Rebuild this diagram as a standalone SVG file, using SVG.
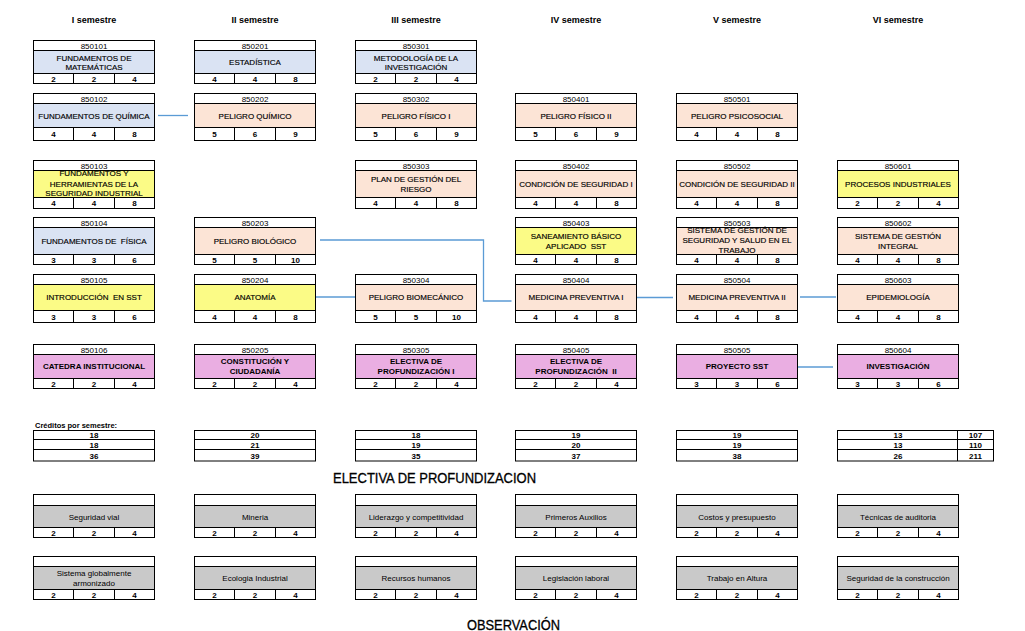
<svg xmlns="http://www.w3.org/2000/svg" width="1025" height="631" viewBox="0 0 1025 631">
<style>
.box{fill:none;stroke:#000;stroke-width:1}
.ln{stroke:#000;stroke-width:1;fill:none}
.bl{fill:#dae3f3}.or{fill:#fce4d6}.ye{fill:#fbfb86}.pk{fill:#eaaee2}.gr{fill:#c9c9c9}
text{font-family:"Liberation Sans",Arial,sans-serif;fill:#000;text-anchor:middle}
.cd{font-size:8px}
.nm{font-size:8px;stroke:#000;stroke-width:0.15px}
.nb{font-size:8px;font-weight:bold}
.nu{font-size:8px;font-weight:bold}
.el{font-size:8px}
.sem{font-size:9px;font-weight:bold}
.big{font-size:14px;text-anchor:start;stroke:#000;stroke-width:0.3px}
.conn{stroke:#5b9bd5;stroke-width:1.3;fill:none}
</style>
<rect width="1025" height="631" fill="#fff"/>
<g id="headers">
<text class="sem" x="94" y="23">I semestre</text>
<text class="sem" x="255" y="23">II semestre</text>
<text class="sem" x="416" y="23">III semestre</text>
<text class="sem" x="576" y="23">IV semestre</text>
<text class="sem" x="737" y="23">V semestre</text>
<text class="sem" x="898" y="23">VI semestre</text>
</g>
<g id="connectors">
<path class="conn" d="M158 115.5H188"/>
<path class="conn" d="M320 240H483.5V301H511.5"/>
<path class="conn" d="M316 297H355"/>
<path class="conn" d="M637 297.5H673"/>
<path class="conn" d="M800 297H836"/>
<path class="conn" d="M798 367H833"/>
</g>
<!-- Row 1 -->
<g id="n850101" transform="translate(33.5,40.5)"><rect class="bl" y="10" width="121" height="23"/><rect class="box" width="121" height="43"/><path class="ln" d="M0 10H121M0 33H121M40 33V43M81 33V43"/><text class="cd" x="60.5" y="8">850101</text><text class="nm" x="60.5" y="20">FUNDAMENTOS DE</text><text class="nm" x="60.5" y="29">MATEMÁTICAS</text><text class="nu" x="20" y="41">2</text><text class="nu" x="60.5" y="41">2</text><text class="nu" x="101" y="41">4</text></g>
<g id="n850201" transform="translate(194.5,40.5)"><rect class="bl" y="10" width="121" height="23"/><rect class="box" width="121" height="43"/><path class="ln" d="M0 10H121M0 33H121M40 33V43M81 33V43"/><text class="cd" x="60.5" y="8">850201</text><text class="nm" x="60.5" y="24.5">ESTADÍSTICA</text><text class="nu" x="20" y="41">4</text><text class="nu" x="60.5" y="41">4</text><text class="nu" x="101" y="41">8</text></g>
<g id="n850301" transform="translate(355.5,40.5)"><rect class="bl" y="10" width="121" height="23"/><rect class="box" width="121" height="43"/><path class="ln" d="M0 10H121M0 33H121M40 33V43M81 33V43"/><text class="cd" x="60.5" y="8">850301</text><text class="nm" x="60.5" y="20">METODOLOGÍA DE LA</text><text class="nm" x="60.5" y="29">INVESTIGACIÓN</text><text class="nu" x="20" y="41">2</text><text class="nu" x="60.5" y="41">2</text><text class="nu" x="101" y="41">4</text></g>
<!-- Row 2 -->
<g id="n850102" transform="translate(33.5,93.5)"><rect class="bl" y="10" width="121" height="24"/><rect class="box" width="121" height="47"/><path class="ln" d="M0 10H121M0 34H121M40 34V47M81 34V47"/><text class="cd" x="60.5" y="8">850102</text><text class="nm" x="60.5" y="25">FUNDAMENTOS DE QUÍMICA</text><text class="nu" x="20" y="43.5">4</text><text class="nu" x="60.5" y="43.5">4</text><text class="nu" x="101" y="43.5">8</text></g>
<g id="n850202" transform="translate(194.5,93.5)"><rect class="or" y="10" width="121" height="24"/><rect class="box" width="121" height="47"/><path class="ln" d="M0 10H121M0 34H121M40 34V47M81 34V47"/><text class="cd" x="60.5" y="8">850202</text><text class="nm" x="60.5" y="25">PELIGRO QUÍMICO</text><text class="nu" x="20" y="43.5">5</text><text class="nu" x="60.5" y="43.5">6</text><text class="nu" x="101" y="43.5">9</text></g>
<g id="n850302" transform="translate(355.5,93.5)"><rect class="or" y="10" width="121" height="24"/><rect class="box" width="121" height="47"/><path class="ln" d="M0 10H121M0 34H121M40 34V47M81 34V47"/><text class="cd" x="60.5" y="8">850302</text><text class="nm" x="60.5" y="25">PELIGRO FÍSICO I</text><text class="nu" x="20" y="43.5">5</text><text class="nu" x="60.5" y="43.5">6</text><text class="nu" x="101" y="43.5">9</text></g>
<g id="n850401" transform="translate(515.5,93.5)"><rect class="or" y="10" width="121" height="24"/><rect class="box" width="121" height="47"/><path class="ln" d="M0 10H121M0 34H121M40 34V47M81 34V47"/><text class="cd" x="60.5" y="8">850401</text><text class="nm" x="60.5" y="25">PELIGRO FÍSICO II</text><text class="nu" x="20" y="43.5">5</text><text class="nu" x="60.5" y="43.5">6</text><text class="nu" x="101" y="43.5">9</text></g>
<g id="n850501" transform="translate(676.5,93.5)"><rect class="or" y="10" width="121" height="24"/><rect class="box" width="121" height="47"/><path class="ln" d="M0 10H121M0 34H121M40 34V47M81 34V47"/><text class="cd" x="60.5" y="8">850501</text><text class="nm" x="60.5" y="25">PELIGRO PSICOSOCIAL</text><text class="nu" x="20" y="43.5">4</text><text class="nu" x="60.5" y="43.5">4</text><text class="nu" x="101" y="43.5">8</text></g>
<!-- Row 3 -->
<g id="n850103" transform="translate(33.5,160.5)"><rect class="ye" y="10" width="121" height="27"/><rect class="box" width="121" height="48"/><path class="ln" d="M0 10H121M0 37H121M40 37V48M81 37V48"/><text class="cd" x="60.5" y="8">850103</text><text class="nm" x="60.5" y="15.5">FUNDAMENTOS Y</text><text class="nm" x="60.5" y="26">HERRAMIENTAS DE LA</text><text class="nm" x="60.5" y="35.5">SEGURIDAD INDUSTRIAL</text><text class="nu" x="20" y="45.5">4</text><text class="nu" x="60.5" y="45.5">4</text><text class="nu" x="101" y="45.5">8</text></g>
<g id="n850303" transform="translate(355.5,160.5)"><rect class="or" y="10" width="121" height="27"/><rect class="box" width="121" height="48"/><path class="ln" d="M0 10H121M0 37H121M40 37V48M81 37V48"/><text class="cd" x="60.5" y="8">850303</text><text class="nm" x="60.5" y="21">PLAN DE GESTIÓN DEL</text><text class="nm" x="60.5" y="31">RIESGO</text><text class="nu" x="20" y="45.5">4</text><text class="nu" x="60.5" y="45.5">4</text><text class="nu" x="101" y="45.5">8</text></g>
<g id="n850402" transform="translate(515.5,160.5)"><rect class="or" y="10" width="121" height="27"/><rect class="box" width="121" height="48"/><path class="ln" d="M0 10H121M0 37H121M40 37V48M81 37V48"/><text class="cd" x="60.5" y="8">850402</text><text class="nm" x="60.5" y="26.5">CONDICIÓN DE SEGURIDAD I</text><text class="nu" x="20" y="45.5">4</text><text class="nu" x="60.5" y="45.5">4</text><text class="nu" x="101" y="45.5">8</text></g>
<g id="n850502" transform="translate(676.5,160.5)"><rect class="or" y="10" width="121" height="27"/><rect class="box" width="121" height="48"/><path class="ln" d="M0 10H121M0 37H121M40 37V48M81 37V48"/><text class="cd" x="60.5" y="8">850502</text><text class="nm" x="60.5" y="26.5">CONDICIÓN DE SEGURIDAD II</text><text class="nu" x="20" y="45.5">4</text><text class="nu" x="60.5" y="45.5">4</text><text class="nu" x="101" y="45.5">8</text></g>
<g id="n850601" transform="translate(837.5,160.5)"><rect class="ye" y="10" width="121" height="27"/><rect class="box" width="121" height="48"/><path class="ln" d="M0 10H121M0 37H121M40 37V48M81 37V48"/><text class="cd" x="60.5" y="8">850601</text><text class="nm" x="60.5" y="26.5">PROCESOS INDUSTRIALES</text><text class="nu" x="20" y="45.5">2</text><text class="nu" x="60.5" y="45.5">2</text><text class="nu" x="101" y="45.5">4</text></g>
<!-- Row 4 -->
<g id="n850104" transform="translate(33.5,217.5)"><rect class="bl" y="10" width="121" height="27"/><rect class="box" width="121" height="47"/><path class="ln" d="M0 10H121M0 37H121M40 37V47M81 37V47"/><text class="cd" x="60.5" y="8">850104</text><text class="nm" x="60.5" y="26" xml:space="preserve">FUNDAMENTOS DE  FÍSICA</text><text class="nu" x="20" y="45">3</text><text class="nu" x="60.5" y="45">3</text><text class="nu" x="101" y="45">6</text></g>
<g id="n850203" transform="translate(194.5,217.5)"><rect class="or" y="10" width="121" height="27"/><rect class="box" width="121" height="47"/><path class="ln" d="M0 10H121M0 37H121M40 37V47M81 37V47"/><text class="cd" x="60.5" y="8">850203</text><text class="nm" x="60.5" y="26">PELIGRO BIOLÓGICO</text><text class="nu" x="20" y="45">5</text><text class="nu" x="60.5" y="45">5</text><text class="nu" x="101" y="45">10</text></g>
<g id="n850403" transform="translate(515.5,217.5)"><rect class="ye" y="10" width="121" height="27"/><rect class="box" width="121" height="47"/><path class="ln" d="M0 10H121M0 37H121M40 37V47M81 37V47"/><text class="cd" x="60.5" y="8">850403</text><text class="nm" x="60.5" y="21">SANEAMIENTO BÁSICO</text><text class="nm" x="60.5" y="31" xml:space="preserve">APLICADO  SST</text><text class="nu" x="20" y="45">4</text><text class="nu" x="60.5" y="45">4</text><text class="nu" x="101" y="45">8</text></g>
<g id="n850503" transform="translate(676.5,217.5)"><rect class="or" y="10" width="121" height="27"/><rect class="box" width="121" height="47"/><path class="ln" d="M0 10H121M0 37H121M40 37V47M81 37V47"/><text class="cd" x="60.5" y="8">850503</text><text class="nm" x="60.5" y="15.5">SISTEMA DE GESTIÓN DE</text><text class="nm" x="60.5" y="25.5">SEGURIDAD Y SALUD EN EL</text><text class="nm" x="60.5" y="35.5">TRABAJO</text><text class="nu" x="20" y="45">4</text><text class="nu" x="60.5" y="45">4</text><text class="nu" x="101" y="45">8</text></g>
<g id="n850602" transform="translate(837.5,217.5)"><rect class="or" y="10" width="121" height="27"/><rect class="box" width="121" height="47"/><path class="ln" d="M0 10H121M0 37H121M40 37V47M81 37V47"/><text class="cd" x="60.5" y="8">850602</text><text class="nm" x="60.5" y="21">SISTEMA DE GESTIÓN</text><text class="nm" x="60.5" y="31">INTEGRAL</text><text class="nu" x="20" y="45">4</text><text class="nu" x="60.5" y="45">4</text><text class="nu" x="101" y="45">8</text></g>
<!-- Row 5 -->
<g id="n850105" transform="translate(33.5,274.5)"><rect class="ye" y="10" width="121" height="26"/><rect class="box" width="121" height="48"/><path class="ln" d="M0 10H121M0 36H121M40 36V48M81 36V48"/><text class="cd" x="60.5" y="8">850105</text><text class="nm" x="60.5" y="25" xml:space="preserve">INTRODUCCIÓN  EN SST</text><text class="nu" x="20" y="45">3</text><text class="nu" x="60.5" y="45">3</text><text class="nu" x="101" y="45">6</text></g>
<g id="n850204" transform="translate(194.5,274.5)"><rect class="ye" y="10" width="121" height="26"/><rect class="box" width="121" height="48"/><path class="ln" d="M0 10H121M0 36H121M40 36V48M81 36V48"/><text class="cd" x="60.5" y="8">850204</text><text class="nm" x="60.5" y="25">ANATOMÍA</text><text class="nu" x="20" y="45">4</text><text class="nu" x="60.5" y="45">4</text><text class="nu" x="101" y="45">8</text></g>
<g id="n850304" transform="translate(355.5,274.5)"><rect class="or" y="10" width="121" height="26"/><rect class="box" width="121" height="48"/><path class="ln" d="M0 10H121M0 36H121M40 36V48M81 36V48"/><text class="cd" x="60.5" y="8">850304</text><text class="nm" x="60.5" y="25">PELIGRO BIOMECÁNICO</text><text class="nu" x="20" y="45">5</text><text class="nu" x="60.5" y="45">5</text><text class="nu" x="101" y="45">10</text></g>
<g id="n850404" transform="translate(515.5,274.5)"><rect class="or" y="10" width="121" height="26"/><rect class="box" width="121" height="48"/><path class="ln" d="M0 10H121M0 36H121M40 36V48M81 36V48"/><text class="cd" x="60.5" y="8">850404</text><text class="nm" x="60.5" y="25">MEDICINA PREVENTIVA I</text><text class="nu" x="20" y="45">4</text><text class="nu" x="60.5" y="45">4</text><text class="nu" x="101" y="45">8</text></g>
<g id="n850504" transform="translate(676.5,274.5)"><rect class="or" y="10" width="121" height="26"/><rect class="box" width="121" height="48"/><path class="ln" d="M0 10H121M0 36H121M40 36V48M81 36V48"/><text class="cd" x="60.5" y="8">850504</text><text class="nm" x="60.5" y="25">MEDICINA PREVENTIVA II</text><text class="nu" x="20" y="45">4</text><text class="nu" x="60.5" y="45">4</text><text class="nu" x="101" y="45">8</text></g>
<g id="n850603" transform="translate(837.5,274.5)"><rect class="or" y="10" width="121" height="26"/><rect class="box" width="121" height="48"/><path class="ln" d="M0 10H121M0 36H121M40 36V48M81 36V48"/><text class="cd" x="60.5" y="8">850603</text><text class="nm" x="60.5" y="25">EPIDEMIOLOGÍA</text><text class="nu" x="20" y="45">4</text><text class="nu" x="60.5" y="45">4</text><text class="nu" x="101" y="45">8</text></g>
<!-- Row 6 -->
<g id="n850106" transform="translate(33.5,344.5)"><rect class="pk" y="10" width="121" height="24"/><rect class="box" width="121" height="44"/><path class="ln" d="M0 10H121M0 34H121M40 34V44M81 34V44"/><text class="cd" x="60.5" y="8">850106</text><text class="nb" x="60.5" y="24.5">CATEDRA INSTITUCIONAL</text><text class="nu" x="20" y="42">2</text><text class="nu" x="60.5" y="42">2</text><text class="nu" x="101" y="42">4</text></g>
<g id="n850205" transform="translate(194.5,344.5)"><rect class="pk" y="10" width="121" height="24"/><rect class="box" width="121" height="44"/><path class="ln" d="M0 10H121M0 34H121M40 34V44M81 34V44"/><text class="cd" x="60.5" y="8">850205</text><text class="nb" x="60.5" y="19">CONSTITUCIÓN Y</text><text class="nb" x="60.5" y="29.5">CIUDADANÍA</text><text class="nu" x="20" y="42">2</text><text class="nu" x="60.5" y="42">2</text><text class="nu" x="101" y="42">4</text></g>
<g id="n850305" transform="translate(355.5,344.5)"><rect class="pk" y="10" width="121" height="24"/><rect class="box" width="121" height="44"/><path class="ln" d="M0 10H121M0 34H121M40 34V44M81 34V44"/><text class="cd" x="60.5" y="8">850305</text><text class="nb" x="60.5" y="19">ELECTIVA DE</text><text class="nb" x="60.5" y="29.5">PROFUNDIZACIÓN I</text><text class="nu" x="20" y="42">2</text><text class="nu" x="60.5" y="42">2</text><text class="nu" x="101" y="42">4</text></g>
<g id="n850405" transform="translate(515.5,344.5)"><rect class="pk" y="10" width="121" height="24"/><rect class="box" width="121" height="44"/><path class="ln" d="M0 10H121M0 34H121M40 34V44M81 34V44"/><text class="cd" x="60.5" y="8">850405</text><text class="nb" x="60.5" y="19">ELECTIVA DE</text><text class="nb" x="60.5" y="29.5" xml:space="preserve">PROFUNDIZACIÓN  II</text><text class="nu" x="20" y="42">2</text><text class="nu" x="60.5" y="42">2</text><text class="nu" x="101" y="42">4</text></g>
<g id="n850505" transform="translate(676.5,344.5)"><rect class="pk" y="10" width="121" height="24"/><rect class="box" width="121" height="44"/><path class="ln" d="M0 10H121M0 34H121M40 34V44M81 34V44"/><text class="cd" x="60.5" y="8">850505</text><text class="nb" x="60.5" y="24.5">PROYECTO SST</text><text class="nu" x="20" y="42">3</text><text class="nu" x="60.5" y="42">3</text><text class="nu" x="101" y="42">6</text></g>
<g id="n850604" transform="translate(837.5,344.5)"><rect class="pk" y="10" width="121" height="24"/><rect class="box" width="121" height="44"/><path class="ln" d="M0 10H121M0 34H121M40 34V44M81 34V44"/><text class="cd" x="60.5" y="8">850604</text><text class="nb" x="60.5" y="24.5">INVESTIGACIÓN</text><text class="nu" x="20" y="42">3</text><text class="nu" x="60.5" y="42">3</text><text class="nu" x="101" y="42">6</text></g>
<!-- Credits -->
<g id="credits">
<text class="nu" x="35" y="428" style="text-anchor:start;font-size:7.5px">Créditos por semestre:</text>
<g transform="translate(33.5,430.5)"><rect class="box" width="121" height="30.5"/><path class="ln" d="M0 9H121M0 19H121"/><text class="nu" x="60.5" y="7.5">18</text><text class="nu" x="60.5" y="17">18</text><text class="nu" x="60.5" y="28">36</text></g>
<g transform="translate(194.5,430.5)"><rect class="box" width="121" height="30.5"/><path class="ln" d="M0 9H121M0 19H121"/><text class="nu" x="60.5" y="7.5">20</text><text class="nu" x="60.5" y="17">21</text><text class="nu" x="60.5" y="28">39</text></g>
<g transform="translate(355.5,430.5)"><rect class="box" width="121" height="30.5"/><path class="ln" d="M0 9H121M0 19H121"/><text class="nu" x="60.5" y="7.5">18</text><text class="nu" x="60.5" y="17">19</text><text class="nu" x="60.5" y="28">35</text></g>
<g transform="translate(515.5,430.5)"><rect class="box" width="121" height="30.5"/><path class="ln" d="M0 9H121M0 19H121"/><text class="nu" x="60.5" y="7.5">19</text><text class="nu" x="60.5" y="17">20</text><text class="nu" x="60.5" y="28">37</text></g>
<g transform="translate(676.5,430.5)"><rect class="box" width="121" height="30.5"/><path class="ln" d="M0 9H121M0 19H121"/><text class="nu" x="60.5" y="7.5">19</text><text class="nu" x="60.5" y="17">19</text><text class="nu" x="60.5" y="28">38</text></g>
<g transform="translate(837.5,430.5)"><rect class="box" width="156" height="30.5"/><path class="ln" d="M0 9H156M0 19H156M120 0V30.5"/><text class="nu" x="60.5" y="7.5">13</text><text class="nu" x="60.5" y="17">13</text><text class="nu" x="60.5" y="28">26</text><text class="nu" x="138" y="7.5">107</text><text class="nu" x="138" y="17.5">110</text><text class="nu" x="138" y="28">211</text></g>
</g>
<text class="big" x="333" y="483" textLength="203" lengthAdjust="spacingAndGlyphs">ELECTIVA DE PROFUNDIZACION</text>
<!-- Electives row A -->
<g id="e1" transform="translate(33.5,494.5)"><rect class="gr" y="11" width="121" height="22"/><rect class="box" width="121" height="43"/><path class="ln" d="M0 11H121M0 33H121M40 33V43M81 33V43"/><text class="el" x="60.5" y="25">Seguridad vial</text><text class="nu" x="20" y="41">2</text><text class="nu" x="60.5" y="41">2</text><text class="nu" x="101" y="41">4</text></g>
<g id="e2" transform="translate(194.5,494.5)"><rect class="gr" y="11" width="121" height="22"/><rect class="box" width="121" height="43"/><path class="ln" d="M0 11H121M0 33H121M40 33V43M81 33V43"/><text class="el" x="60.5" y="25">Mineria</text><text class="nu" x="20" y="41">2</text><text class="nu" x="60.5" y="41">2</text><text class="nu" x="101" y="41">4</text></g>
<g id="e3" transform="translate(355.5,494.5)"><rect class="gr" y="11" width="121" height="22"/><rect class="box" width="121" height="43"/><path class="ln" d="M0 11H121M0 33H121M40 33V43M81 33V43"/><text class="el" x="60.5" y="25">Liderazgo y competitividad</text><text class="nu" x="20" y="41">2</text><text class="nu" x="60.5" y="41">2</text><text class="nu" x="101" y="41">4</text></g>
<g id="e4" transform="translate(515.5,494.5)"><rect class="gr" y="11" width="121" height="22"/><rect class="box" width="121" height="43"/><path class="ln" d="M0 11H121M0 33H121M40 33V43M81 33V43"/><text class="el" x="60.5" y="25">Primeros Auxilios</text><text class="nu" x="20" y="41">2</text><text class="nu" x="60.5" y="41">2</text><text class="nu" x="101" y="41">4</text></g>
<g id="e5" transform="translate(676.5,494.5)"><rect class="gr" y="11" width="121" height="22"/><rect class="box" width="121" height="43"/><path class="ln" d="M0 11H121M0 33H121M40 33V43M81 33V43"/><text class="el" x="60.5" y="25">Costos y presupuesto</text><text class="nu" x="20" y="41">2</text><text class="nu" x="60.5" y="41">2</text><text class="nu" x="101" y="41">4</text></g>
<g id="e6" transform="translate(837.5,494.5)"><rect class="gr" y="11" width="121" height="22"/><rect class="box" width="121" height="43"/><path class="ln" d="M0 11H121M0 33H121M40 33V43M81 33V43"/><text class="el" x="60.5" y="25">Técnicas de auditoria</text><text class="nu" x="20" y="41">2</text><text class="nu" x="60.5" y="41">2</text><text class="nu" x="101" y="41">4</text></g>
<!-- Electives row B -->
<g id="e7" transform="translate(33.5,556.5)"><rect class="gr" y="10" width="121" height="23"/><rect class="box" width="121" height="43"/><path class="ln" d="M0 10H121M0 33H121M40 33V43M81 33V43"/><text class="el" x="60.5" y="19">Sistema globalmente</text><text class="el" x="60.5" y="29.5">armonizado</text><text class="nu" x="20" y="41">2</text><text class="nu" x="60.5" y="41">2</text><text class="nu" x="101" y="41">4</text></g>
<g id="e8" transform="translate(194.5,556.5)"><rect class="gr" y="10" width="121" height="23"/><rect class="box" width="121" height="43"/><path class="ln" d="M0 10H121M0 33H121M40 33V43M81 33V43"/><text class="el" x="60.5" y="24">Ecologia Industrial</text><text class="nu" x="20" y="41">2</text><text class="nu" x="60.5" y="41">2</text><text class="nu" x="101" y="41">4</text></g>
<g id="e9" transform="translate(355.5,556.5)"><rect class="gr" y="10" width="121" height="23"/><rect class="box" width="121" height="43"/><path class="ln" d="M0 10H121M0 33H121M40 33V43M81 33V43"/><text class="el" x="60.5" y="24">Recursos humanos</text><text class="nu" x="20" y="41">2</text><text class="nu" x="60.5" y="41">2</text><text class="nu" x="101" y="41">4</text></g>
<g id="e10" transform="translate(515.5,556.5)"><rect class="gr" y="10" width="121" height="23"/><rect class="box" width="121" height="43"/><path class="ln" d="M0 10H121M0 33H121M40 33V43M81 33V43"/><text class="el" x="60.5" y="24">Legislación laboral</text><text class="nu" x="20" y="41">2</text><text class="nu" x="60.5" y="41">2</text><text class="nu" x="101" y="41">4</text></g>
<g id="e11" transform="translate(676.5,556.5)"><rect class="gr" y="10" width="121" height="23"/><rect class="box" width="121" height="43"/><path class="ln" d="M0 10H121M0 33H121M40 33V43M81 33V43"/><text class="el" x="60.5" y="24">Trabajo en Altura</text><text class="nu" x="20" y="41">2</text><text class="nu" x="60.5" y="41">2</text><text class="nu" x="101" y="41">4</text></g>
<g id="e12" transform="translate(837.5,556.5)"><rect class="gr" y="10" width="121" height="23"/><rect class="box" width="121" height="43"/><path class="ln" d="M0 10H121M0 33H121M40 33V43M81 33V43"/><text class="el" x="60.5" y="24">Seguridad de la construcción</text><text class="nu" x="20" y="41">2</text><text class="nu" x="60.5" y="41">2</text><text class="nu" x="101" y="41">4</text></g>
<text class="big" x="467" y="630" textLength="93" lengthAdjust="spacingAndGlyphs">OBSERVACIÓN</text>
</svg>
